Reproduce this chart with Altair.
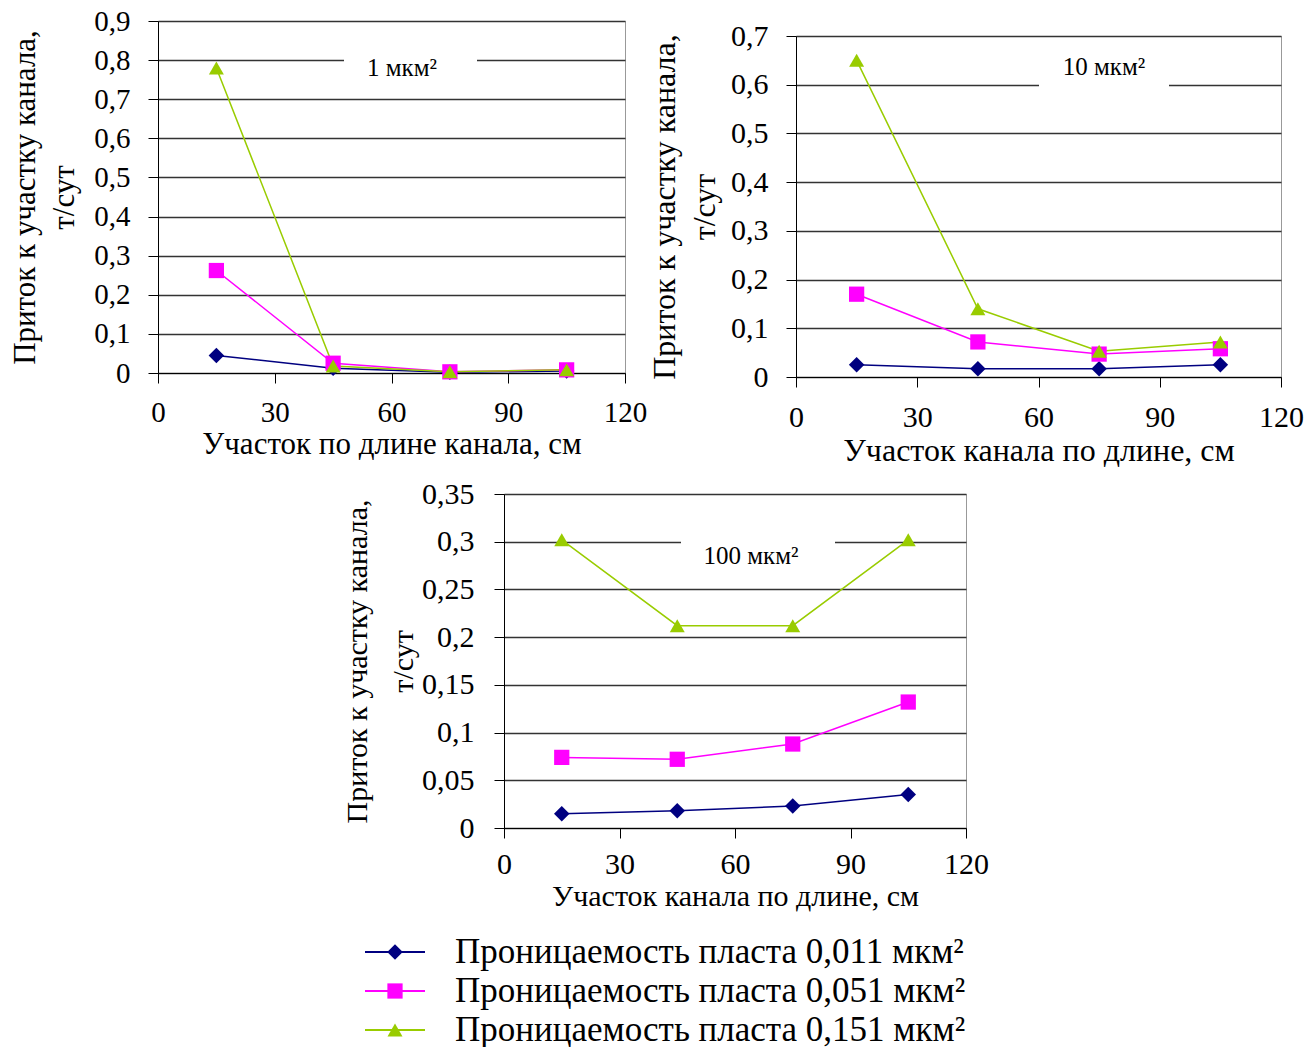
import altair as alt
import pandas as pd

FONT = "Liberation Serif"

# ---------------- data ----------------
x_pos = [15, 45, 75, 105]
x_ticks = [0, 30, 60, 90, 120]
series = [
    "Проницаемость пласта 0,011 мкм²",
    "Проницаемость пласта 0,051 мкм²",
    "Проницаемость пласта 0,151 мкм²",
]
colors = ["#000080", "#FF00FF", "#99CC00"]
shapes = ["diamond", "square", "triangle-up"]
marker_sizes = [240, 225, 320]

# panel 1: 1 мкм²
p1_k011 = [0.045, 0.012, 0.002, 0.005]
p1_k051 = [0.262, 0.025, 0.003, 0.008]
p1_k151 = [0.78, 0.018, 0.003, 0.008]
y_ticks_1 = [0, 0.1, 0.2, 0.3, 0.4, 0.5, 0.6, 0.7, 0.8, 0.9]

# panel 2: 10 мкм²
p2_k011 = [0.025, 0.017, 0.017, 0.025]
p2_k051 = [0.17, 0.072, 0.047, 0.058]
p2_k151 = [0.65, 0.14, 0.053, 0.072]
y_ticks_2 = [0, 0.1, 0.2, 0.3, 0.4, 0.5, 0.6, 0.7]

# panel 3: 100 мкм²
p3_k011 = [0.015, 0.018, 0.023, 0.035]
p3_k051 = [0.074, 0.072, 0.088, 0.132]
p3_k151 = [0.302, 0.212, 0.212, 0.302]
y_ticks_3 = [0, 0.05, 0.1, 0.15, 0.2, 0.25, 0.3, 0.35]

y_title = ["Приток к участку канала,", "т/сут"]
x_title_1 = "Участок по длине канала, см"
x_title_2 = "Участок  канала по длине, см"
x_title_3 = "Участок канала по длине, см"
notes = ["1 мкм²", "10 мкм²", "100 мкм²"]


def make_df(vals):
    rows = []
    for name, v in zip(series, vals):
        for x, y in zip(x_pos, v):
            rows.append({"s": name, "x": x, "y": y})
    return pd.DataFrame(rows)


color_enc = alt.Color("s:N", scale=alt.Scale(domain=series, range=colors), legend=None)
shape_enc = alt.Shape("s:N", scale=alt.Scale(domain=series, range=shapes), legend=None)
size_enc = alt.Size("s:N", scale=alt.Scale(domain=series, range=marker_sizes), legend=None)


def panel(vals, y_ticks, x_title, note, w, h, box, note_xy, st):
    df = make_df(vals)
    x = alt.X(
        "x:Q",
        scale=alt.Scale(domain=[0, 120], nice=False, zero=False),
        axis=alt.Axis(
            values=x_ticks, format="d", grid=False, tickSize=10, tickColor="black",
            domainColor="black", labelColor="black", labelFont=FONT,
            labelFontSize=st["lab"], labelPadding=st["xlp"], labelFlush=False,
            labelOverlap=False,
            title=x_title, titleFont=FONT, titleFontSize=st["tf"], titleFontWeight="normal",
            titleColor="black", titlePadding=st["xtp"],
        ),
    )
    y = alt.Y(
        "y:Q",
        scale=alt.Scale(domain=[0, y_ticks[-1]], nice=False),
        axis=alt.Axis(
            values=y_ticks, labelExpr="replace(format(datum.value, '~g'), '.', ',')",
            grid=True, gridColor="#333333", gridWidth=1.3, tickSize=10, tickColor="black",
            domainColor="black", labelColor="black", labelFont=FONT,
            labelFontSize=st["lab"], labelPadding=st["lp"], labelFlush=False, labelOverlap=False,
            title=y_title, titleFont=FONT, titleFontSize=st["tf"], titleFontWeight="normal",
            titleColor="black", titlePadding=st["tp"], titleLineHeight=st["lh"],
        ),
    )
    base = alt.Chart(df)
    lines = base.mark_line(strokeWidth=1.5).encode(x=x, y=y, color=color_enc, detail="s:N")
    pts = base.mark_point(filled=True, opacity=1).encode(
        x=x, y=y, color=color_enc, shape=shape_enc, size=size_enc
    )
    note_df = pd.DataFrame({"t": [note]})
    rect = alt.Chart(note_df).mark_rect(color="white").encode(
        x=alt.value(box[0]), x2=alt.value(box[1]), y=alt.value(box[2]), y2=alt.value(box[3])
    )
    txt = alt.Chart(note_df).mark_text(font=FONT, fontSize=25, color="black").encode(
        text="t:N", x=alt.value(note_xy[0]), y=alt.value(note_xy[1])
    )
    return alt.layer(rect, lines, pts, txt).properties(
        width=w, height=h, view=alt.ViewBackground(stroke="#999999", strokeWidth=1)
    )


def spacer(w, h=1):
    d = pd.DataFrame({"a": [0]})
    return alt.Chart(d).mark_point(opacity=0, size=1).encode(
        x=alt.value(0), y=alt.value(0)
    ).properties(width=w, height=h, view=alt.ViewBackground(stroke=None))


c1 = panel([p1_k011, p1_k051, p1_k151], y_ticks_1, x_title_1, notes[0],
           467, 352, (186, 319, 28, 64), (244, 47),
           dict(lab=29, lp=18, tf=31, tp=13, lh=39, xlp=15, xtp=2))
c2 = panel([p2_k011, p2_k051, p2_k151], y_ticks_2, x_title_2, notes[1],
           485, 341, (243, 373, 14, 60), (308, 31),
           dict(lab=30, lp=18, tf=32, tp=9, lh=40, xlp=15, xtp=3))
c3 = panel([p3_k011, p3_k051, p3_k151], y_ticks_3, x_title_3, notes[2],
           462, 334, (177, 331, 40, 80), (247, 62),
           dict(lab=30, lp=20, tf=30, tp=3, lh=46, xlp=11, xtp=2))

# legend drawn as its own small chart
leg_df = pd.DataFrame({"s": series, "i": [0, 1, 2]})
ly = alt.Y("i:Q", scale=alt.Scale(domain=[0, 2], range=[28, 106]), axis=None)
leg_base = alt.Chart(leg_df)
leg_lines = leg_base.mark_rule(strokeWidth=1.8).encode(
    x=alt.value(0), x2=alt.value(60), y=ly, color=color_enc
)
leg_pts = leg_base.mark_point(filled=True, opacity=1).encode(
    x=alt.value(30), y=ly, color=color_enc, shape=shape_enc, size=size_enc
)
leg_txt = leg_base.mark_text(font=FONT, fontSize=35, align="left", color="black").encode(
    x=alt.value(90), y=ly, text="s:N"
)
legend = alt.layer(leg_lines, leg_pts, leg_txt).properties(
    width=640, height=125, view=alt.ViewBackground(stroke=None)
)

col2 = alt.vconcat(spacer(1, 1), c2, spacing=-2).resolve_scale(x="independent", y="independent")
row1 = alt.hconcat(c1, col2, spacing=0).resolve_scale(x="independent", y="independent")
row2 = alt.hconcat(spacer(184), c3, spacing=0).resolve_scale(x="independent", y="independent")
row3 = alt.hconcat(spacer(206), legend, spacing=0).resolve_scale(x="independent", y="independent")

chart = alt.vconcat(row1, row2, row3, spacing=11).resolve_scale(
    x="independent", y="independent"
).properties(
    padding={"left": 9, "top": 6, "right": 0, "bottom": 0}
).configure(font=FONT, background="white")

chart.save("out.html", embed_options={"renderer": "svg", "actions": False})
